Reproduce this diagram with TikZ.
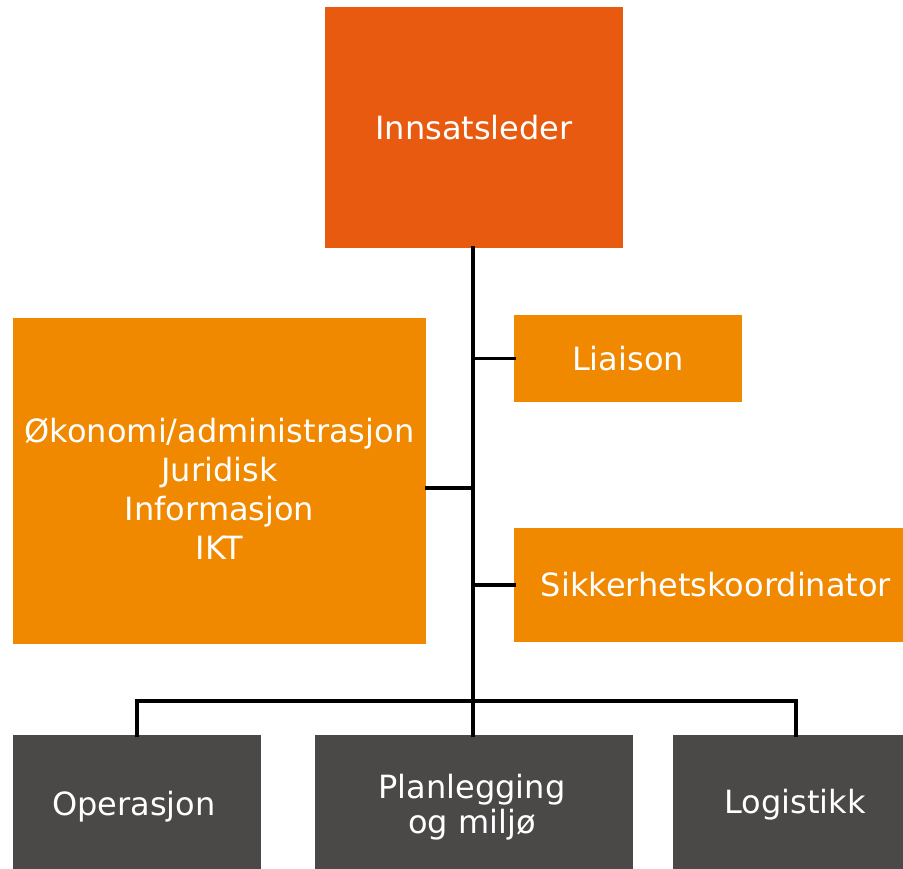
\documentclass[tikz,border=0pt]{standalone}
\usepackage{fontspec}
\setmainfont{DejaVu Sans}
\usepackage{tikz}
\usetikzlibrary{calc}
\definecolor{leadorange}{RGB}{232,90,15}
\definecolor{stafforange}{RGB}{240,136,0}
\definecolor{unitgray}{RGB}{74,73,72}

\begin{document}
\begin{tikzpicture}[line cap=rect,line join=miter,x=1pt,y=-1pt,
  box/.style={rectangle, inner sep=0pt, text=white, align=center,
    font=\fontsize{32}{39}\selectfont},
  lead/.style={box, fill=leadorange},
  staff/.style={box, fill=stafforange},
  unit/.style={box, fill=unitgray},
  link/.style={line width=3.4pt, black}]
\useasboundingbox (0,0) rectangle (903,869);
\node [lead, minimum width=298pt, minimum height=241pt] (leder) at (474,127.5) {Innsatsleder};
\node [staff, minimum width=228pt, minimum height=87pt] (liaison) at (628,358.5) {Liaison};
\node [staff, minimum width=413pt, minimum height=326pt] (stab) at (219.5,481) {};
\node [box] (stabtekst) at (219.5,489) {Økonomi/administrasjon\\Juridisk\\Informasjon\\IKT};
\node [staff, minimum width=389pt, minimum height=114pt] (sikkerhet) at (708.5,585) {};
\node [box] (sikkerhettekst) at (716,585) {Sikkerhetskoordinator};
\node [unit, minimum width=248pt, minimum height=134pt] (operasjon) at (137,802) {};
\node [box] at (134,807) {Operasjon};
\node [unit, minimum width=318pt, minimum height=134pt] (plan) at (473.5,802) {};
\node [box, font=\fontsize{32}{35}\selectfont] at (472,807) {Planlegging\\og miljø};
\node [unit, minimum width=230pt, minimum height=134pt] (logistikk) at (787.5,802) {};
\node [box] at (795,805) {Logistikk};
\coordinate (hub) at (473,701);
\coordinate (logtopp) at ($(logistikk.north)+(8.5,0)$);
\draw [link] (leder.south -| hub) -- (hub);
\draw [link] (liaison.west) -- (liaison.west -| hub);
\draw [link] ([yshift=-7pt]stab.east) -- ([yshift=-7pt]stab.east -| hub);
\draw [link] (sikkerhet.west) -- (sikkerhet.west -| hub);
\draw [link] (hub) -- (plan.north -| hub);
\draw [link] (operasjon.north) |- (hub) -| (logtopp);
\end{tikzpicture}
\end{document}
